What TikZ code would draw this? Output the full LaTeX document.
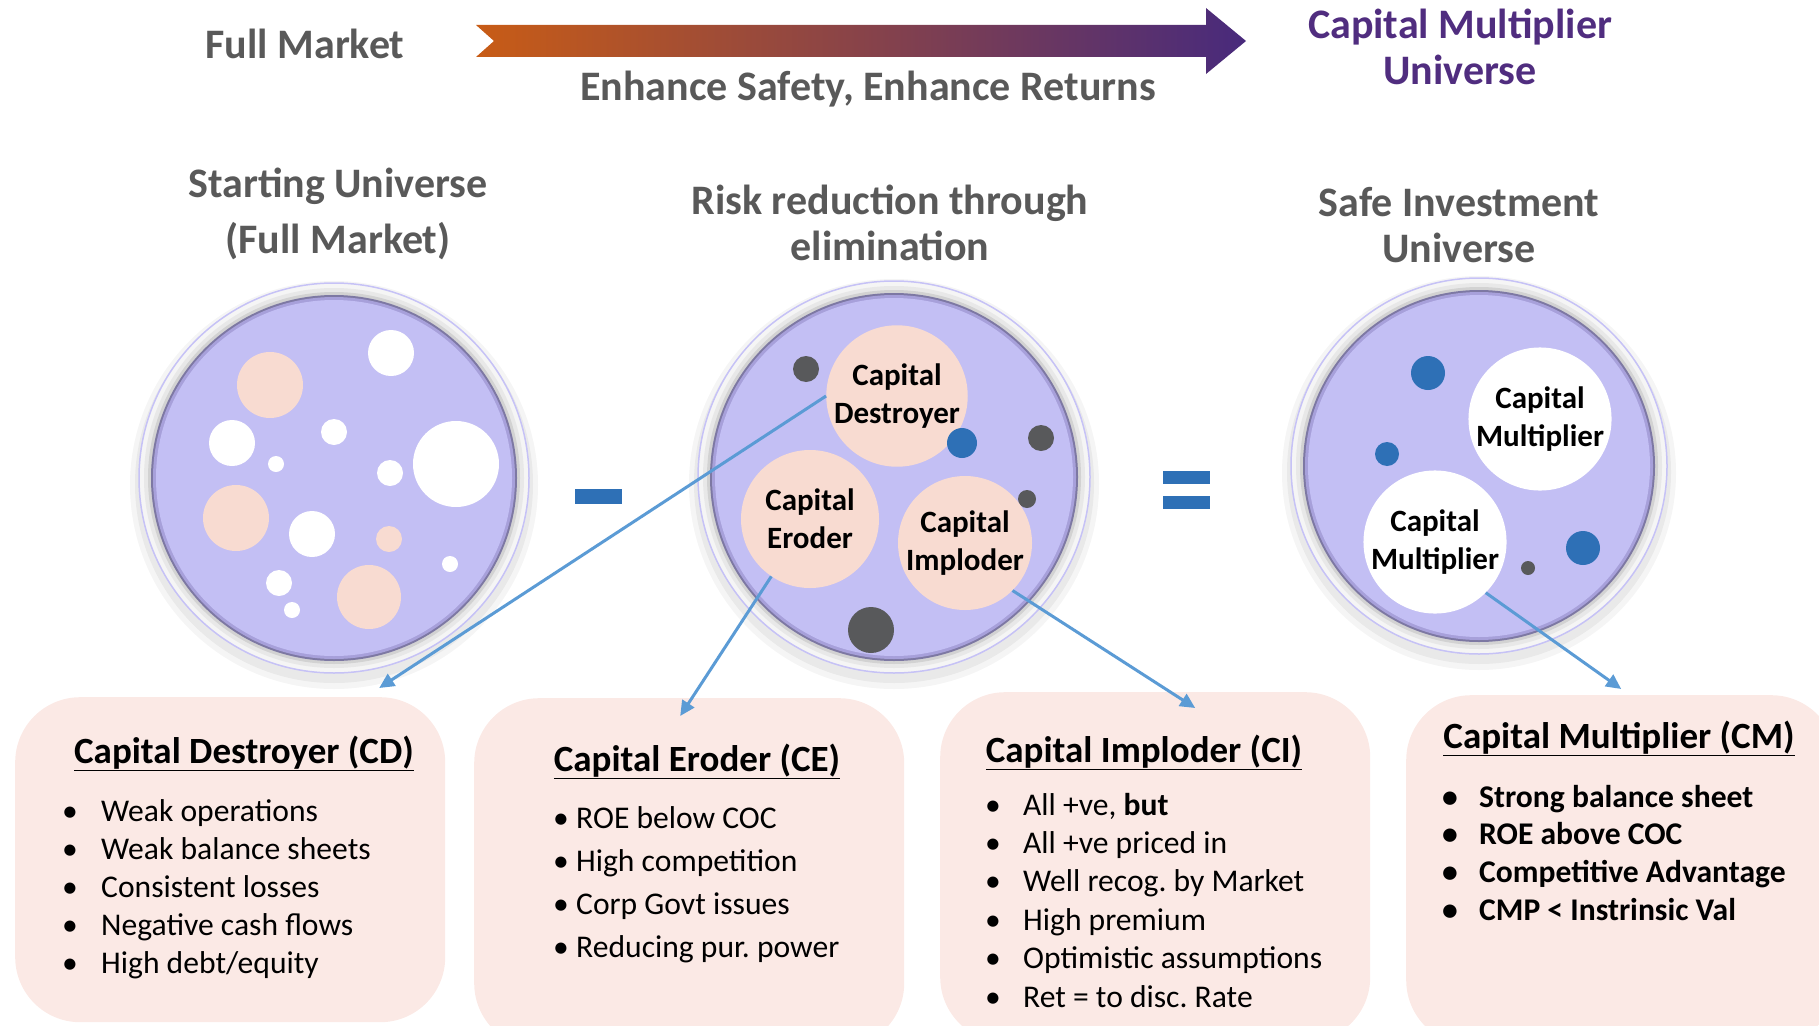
\documentclass[tikz,border=0pt]{standalone}
\usepackage{fontspec}
\setmainfont{Carlito}
\usetikzlibrary{arrows.meta,calc}
\frenchspacing

\definecolor{textgray}{RGB}{89,89,89}
\definecolor{titlepurple}{RGB}{80,45,127}
\definecolor{arrorange}{RGB}{200,92,22}
\definecolor{arrpurple}{RGB}{72,42,124}
\definecolor{lav}{RGB}{195,191,244}
\definecolor{lavedge}{RGB}{198,194,246}
\definecolor{lavband}{RGB}{167,160,218}
\definecolor{bubpeach}{RGB}{248,219,209}
\definecolor{boxpeach}{RGB}{251,233,229}
\definecolor{gritgray}{RGB}{88,89,91}
\definecolor{dropblue}{RGB}{46,112,182}
\definecolor{linkblue}{RGB}{91,155,213}

\newcommand\bul[1]{\makebox[#1][l]{\textbullet}}

\begin{document}
\begin{tikzpicture}[x=1pt,y=-1pt,
  head/.style={font=\bfseries\fontsize{42}{46}\selectfont, text=textgray, align=center},
  bub/.style={circle, inner sep=0pt, align=center, font=\bfseries\fontsize{31}{38}\selectfont},
  peach/.style={bub, fill=bubpeach},
  hole/.style={bub, fill=white},
  grit/.style={bub, fill=gritgray},
  drop/.style={bub, fill=dropblue},
  box/.style={rectangle, rounded corners=65pt, fill=boxpeach, anchor=north west, minimum width=430pt},
  boxtitle/.style={anchor=base, font=\bfseries\fontsize{37}{44}\selectfont},
  items/.style={anchor=base west, inner sep=0pt},
  link/.style={draw=linkblue, line width=3pt, -{Triangle[length=15pt,width=14pt]}}
]
\useasboundingbox (0,0) rectangle (1819,1025);
\clip (0,0) rectangle (1819,1025);

% top banner
\shade[left color=arrorange, right color=arrpurple]
  (476,25) -- (1206,25) -- (1206,8) -- (1246,41) -- (1206,74) -- (1206,57) -- (476,57) -- (494,41) -- cycle;
\node[head] (full) at (305,44) {Full Market};
\node[head] (enh) at (868,89) {Enhance Safety, Enhance Returns};
\node[head, text=titlepurple] (cmu) at (1460,47) {Capital Multiplier\\Universe};

\node[head] (start) at (338,214) {Starting Universe\\[10pt](Full Market)};
\node[head] (risk) at (890,223) {Risk reduction through\\elimination};
\node[head] (safe) at (1459,225) {Safe Investment\\Universe};

% dishes
\foreach \cx/\cy/\r in {334/478/195, 894/477/196, 1479/466/188} {
  \fill[black, opacity=.04] (\cx,\cy+7) circle[radius=\r pt+9pt];
  \fill[black, opacity=.05] (\cx,\cy+6) circle[radius=\r pt+4pt];
  \filldraw[fill=gray!8, draw=lavedge, line width=1.5pt] (\cx,\cy) circle[radius=\r pt];
  \fill[gray!18] (\cx,\cy) circle[radius=\r pt-5pt];
  \fill[gray!35] (\cx,\cy) circle[radius=\r pt-9pt];
  \fill[black!25!lavband] (\cx,\cy) circle[radius=\r pt-12pt];
  \fill[lavband] (\cx,\cy) circle[radius=\r pt-14pt];
  \fill[lav] (\cx,\cy) circle[radius=\r pt-17pt];
}

% starting universe
\node[peach, minimum size=66pt] (a1) at (270,385) {};
\node[hole, minimum size=46pt] (a2) at (391,353) {};
\node[hole, minimum size=46pt] (a3) at (232,443) {};
\node[hole, minimum size=26pt] (a4) at (334,432) {};
\node[hole, minimum size=16pt] (a5) at (276,464) {};
\node[hole, minimum size=86pt] (a6) at (456,464) {};
\node[hole, minimum size=26pt] (a7) at (390,473) {};
\node[peach, minimum size=66pt] (a8) at (236,518) {};
\node[hole, minimum size=46pt] (a9) at (312,534) {};
\node[peach, minimum size=26pt] (a10) at (389,539) {};
\node[hole, minimum size=16pt] (a11) at (450,564) {};
\node[hole, minimum size=26pt] (a12) at (279,583) {};
\node[hole, minimum size=16pt] (a13) at (292,610) {};
\node[peach, minimum size=64pt] (a14) at (369,597) {};

% risk reduction
\node[grit, minimum size=26pt] (b1) at (806,369) {};
\node[peach, minimum size=134pt] (dest) at (897,396) {Capital\\Destroyer};
\node[drop, minimum size=30pt] (b2) at (962,443) {};
\node[grit, minimum size=26pt] (b3) at (1041,438) {};
\node[peach, minimum size=138pt] (erod) at (810,519) {Capital\\Eroder};
\node[grit, minimum size=18pt] (b4) at (1027,499) {};
\node[peach, minimum size=134pt] (impl) at (965,543) {Capital\\Imploder};
\node[grit, minimum size=46pt] (b5) at (871,630) {};

% safe universe
\node[drop, minimum size=34pt] (c1) at (1428,373) {};
\node[hole, minimum size=140pt] (multa) at (1540,419) {Capital\\Multiplier};
\node[drop, minimum size=24pt] (c2) at (1387,454) {};
\node[hole, minimum size=140pt] (multb) at (1435,542) {Capital\\Multiplier};
\node[drop, minimum size=34pt] (c3) at (1583,548) {};
\node[grit, minimum size=14pt] (c4) at (1528,568) {};

\fill[dropblue] (575,489) rectangle (622,504);
\fill[dropblue] (1163,471) rectangle (1210,484);
\fill[dropblue] (1163,496) rectangle (1210,509);

% boxes
\node[box, minimum height=325pt] (cd) at (15,697) {};
\node[box, minimum height=350pt] (ce) at (474,698) {};
\node[box, minimum height=350pt] (ci) at (940,692) {};
\node[box, minimum height=350pt] (cm) at (1406,695) {};

\node[boxtitle] (cdt) at (244,763) {\underline{Capital Destroyer (CD)}};
\node[boxtitle] (cet) at (697,771) {\underline{Capital Eroder (CE)}};
\node[boxtitle] (cit) at (1144,762) {\underline{Capital Imploder (CI)}};
\node[boxtitle] (cmt) at (1619,748) {\underline{Capital Multiplier (CM)}};

\node[items, font=\fontsize{31.6}{38.2}\selectfont] (cdl) at (62,821) {\begin{tabular}[t]{@{}l@{}}
  \bul{39pt}Weak operations\\
  \bul{39pt}Weak balance sheets\\
  \bul{39pt}Consistent losses\\
  \bul{39pt}Negative cash flows\\
  \bul{39pt}High debt/equity
\end{tabular}};
\node[items, font=\fontsize{31.6}{43}\selectfont] (cel) at (553,828) {\begin{tabular}[t]{@{}l@{}}
  \bul{23pt}ROE below COC\\
  \bul{23pt}High competition\\
  \bul{23pt}Corp Govt issues\\
  \bul{23pt}Reducing pur. power
\end{tabular}};
\node[items, font=\fontsize{31.6}{38.4}\selectfont] (cil) at (985,815) {\begin{tabular}[t]{@{}l@{}}
  \bul{38pt}All +ve, \textbf{but}\\
  \bul{38pt}All +ve priced in\\
  \bul{38pt}Well recog. by Market\\
  \bul{38pt}High premium\\
  \bul{38pt}Optimistic assumptions\\
  \bul{38pt}Ret = to disc. Rate
\end{tabular}};
\node[items, font=\bfseries\fontsize{31.6}{37.7}\selectfont] (cml) at (1442,807) {\begin{tabular}[t]{@{}l@{}}
  \bul{37pt}Strong balance sheet\\
  \bul{37pt}ROE above COC\\
  \bul{37pt}Competitive Advantage\\
  \bul{37pt}CMP < Instrinsic Val
\end{tabular}};

% links
\draw[link] (dest.west) -- ($(cd.north)+(149,-9)$);
\draw[link] (erod.236) -- ($(ce.north)+(-9,18)$);
\draw[link] (impl.-45) -- ($(ci.north)+(40,16)$);
\draw[link] (multb.-45) -- ($(cm.north)+(0,-6)$);

\end{tikzpicture}
\end{document}
